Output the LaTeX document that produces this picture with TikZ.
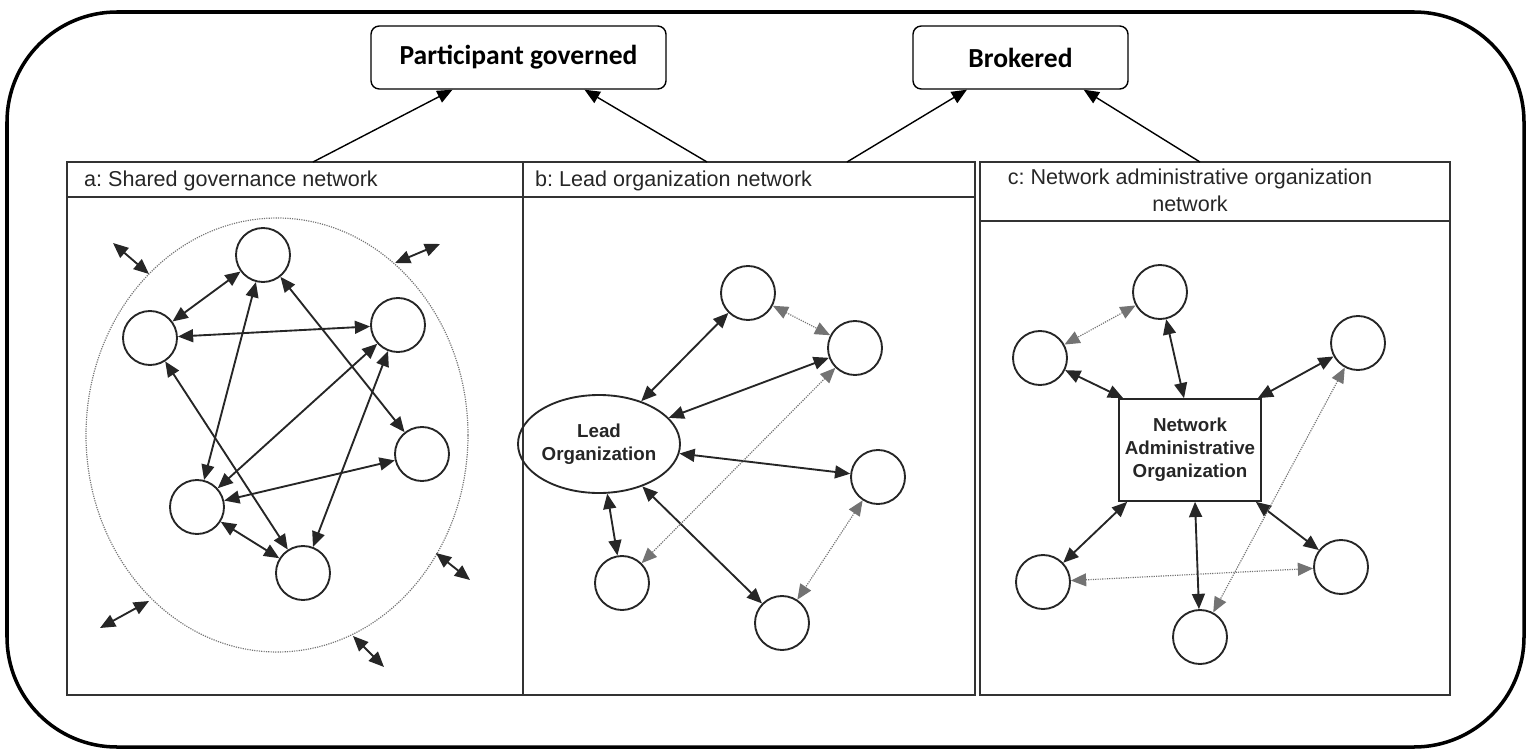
\documentclass[tikz,border=0pt]{standalone}
\usepackage{fontspec}
\setmainfont{Liberation Sans}
\newfontfamily\boxfont{Carlito}
\usepackage{tikz}
\usetikzlibrary{positioning,calc,shapes.geometric,arrows.meta}
\frenchspacing
\newcommand{\mnode}[2]{\node [member] (#1) at (#2) {}}
\newcommand{\tip}{Triangle[length=13pt,width=11pt]}
\tikzset{
  member/.style={circle, draw=black!85, line width=1.6pt, minimum size=16.2mm, inner sep=0pt},
  link/.style={{\tip}-{\tip}, line width=1.6pt, draw=black!85},
  weak/.style={{\tip[color=black!85]}-{\tip[color=black!85]}, line width=1pt, draw=black!55, dash pattern=on 1pt off 1pt},
  kind/.style={draw, rounded corners=2.5mm, line width=1.2pt, minimum height=18.9mm, font=\boxfont\bfseries\fontsize{23.5}{28}\selectfont},
  panel/.style={draw=black!80, line width=1.3pt},
  head/.style={font=\fontsize{18.4}{23}\selectfont, text=black!85, inner sep=0pt},
  hubtext/.style={font=\bfseries\fontsize{16}{19.5}\selectfont, text=black!85, align=center, inner sep=0pt}
}

\begin{document}
\begin{tikzpicture}[x=0.3mm, y=-0.3mm]
\useasboundingbox (0,0) rectangle (1526,749);

\draw[line width=3pt, rounded corners=33mm] (7,12) rectangle (1524,747);

\node[kind, minimum width=88.5mm] (pg) at (518.5,57.5) {Participant governed};
\node[kind, minimum width=64.5mm] (br) at (1020.5,57.5) {Brokered};

\draw[panel] (67,162) rectangle (523,695);
\draw[panel] (523,162) rectangle (975,695);
\draw[panel] (980,162) rectangle (1450,695);
\draw[panel, line width=2.4pt] (67,162) -- (67,695);
\draw[panel] (67,197) -- (975,197);
\draw[panel] (980,221) -- (1450,221);

\node[head, anchor=base west] (ha) at (84,186) {a: Shared governance network};
\node[head, anchor=base west] (hb) at (535,186) {b: Lead organization network};
\node[head, anchor=base, align=center] (hc) at (1190,211) {c: Network administrative organization\\network};

\coordinate (ta) at (313,162);
\coordinate (tb1) at (707,162);
\coordinate (tb2) at (847,162);
\coordinate (tc) at (1200,162);
\draw[-{\tip}, line width=1.2pt] (ta) -- (pg.-154);
\draw[-{\tip}, line width=1.2pt] (tb1) -- (pg.-26.4);
\draw[-{\tip}, line width=1.2pt] (tb2) -- (br.-149.5);
\draw[-{\tip}, line width=1.2pt] (tc) -- (br.-27.9);

\node[ellipse, draw=black!55, line width=1pt, dash pattern=on 1pt off 1pt, minimum width=114.6mm, minimum height=130.2mm] (ring) at (277,435) {};
\mnode{A1}{263,255};
\mnode{A2}{150,338};
\mnode{A3}{398,325};
\mnode{A4}{422,454};
\mnode{A5}{197,507};
\mnode{A6}{303,573};
\draw[link] (A1) -- (A2);
\draw[link] (A2) -- (A3);
\draw[link] (A1) -- (A5);
\draw[link] (A1) -- (A4);
\draw[link] (A2) -- (A6);
\draw[link] (A3) -- (A5);
\draw[link] (A3) -- (A6);
\draw[link] (A4) -- (A5);
\draw[link] (A5) -- (A6);

\coordinate (o1a) at (113,243);
\coordinate (o1b) at (149,274);
\coordinate (o2a) at (395,263);
\coordinate (o2b) at (440,244);
\coordinate (o3a) at (436,553);
\coordinate (o3b) at (470,580);
\coordinate (o4a) at (353,636);
\coordinate (o4b) at (384,667);
\coordinate (o5a) at (100,628);
\coordinate (o5b) at (149,601);
\draw[link] (o1a) -- (o1b);
\draw[link] (o2a) -- (o2b);
\draw[link] (o3a) -- (o3b);
\draw[link] (o4a) -- (o4b);
\draw[link] (o5a) -- (o5b);

\node[ellipse, draw=black!85, line width=1.6pt, minimum width=37.8mm, minimum height=29.4mm, hubtext] (lead) at (599,444) {Lead\\Organization};
\mnode{B1}{748,293};
\mnode{B2}{855,348};
\mnode{B3}{878,477};
\mnode{B4}{622,583};
\mnode{B5}{782,623};
\draw[link] (lead) -- (B1);
\draw[link] (lead) -- (B2);
\draw[link] (lead) -- (B3);
\draw[link] (lead) -- (B4);
\draw[link] (lead) -- (B5);
\draw[weak] (B1) -- (B2);
\draw[weak] (B2) -- (B4);
\draw[weak] (B3) -- (B5);

\node[draw=black!85, line width=1.4pt, minimum width=42.6mm, minimum height=30.6mm, hubtext] (nao) at (1190,450) {Network\\Administrative\\Organization};
\mnode{C1}{1160,292};
\mnode{C2}{1040,358};
\mnode{C3}{1358,343};
\mnode{C4}{1043,582};
\mnode{C5}{1200,637};
\mnode{C6}{1341,567};
\draw[link] (C2) -- ([xshift=1.5mm]nao.north west);
\draw[link] (C1) -- ([xshift=-1.8mm]nao.north);
\draw[link] (C3) -- ([xshift=-1.2mm]nao.north east);
\draw[link] (C4) -- ([xshift=2.7mm]nao.south west);
\draw[link] (C5) -- ([xshift=1.5mm]nao.south);
\draw[link] (C6) -- ([xshift=-1.8mm]nao.south east);
\draw[weak] (C1) -- (C2);
\draw[weak] (C3) -- (C5);
\draw[weak] (C4) -- (C6);

\end{tikzpicture}
\end{document}
